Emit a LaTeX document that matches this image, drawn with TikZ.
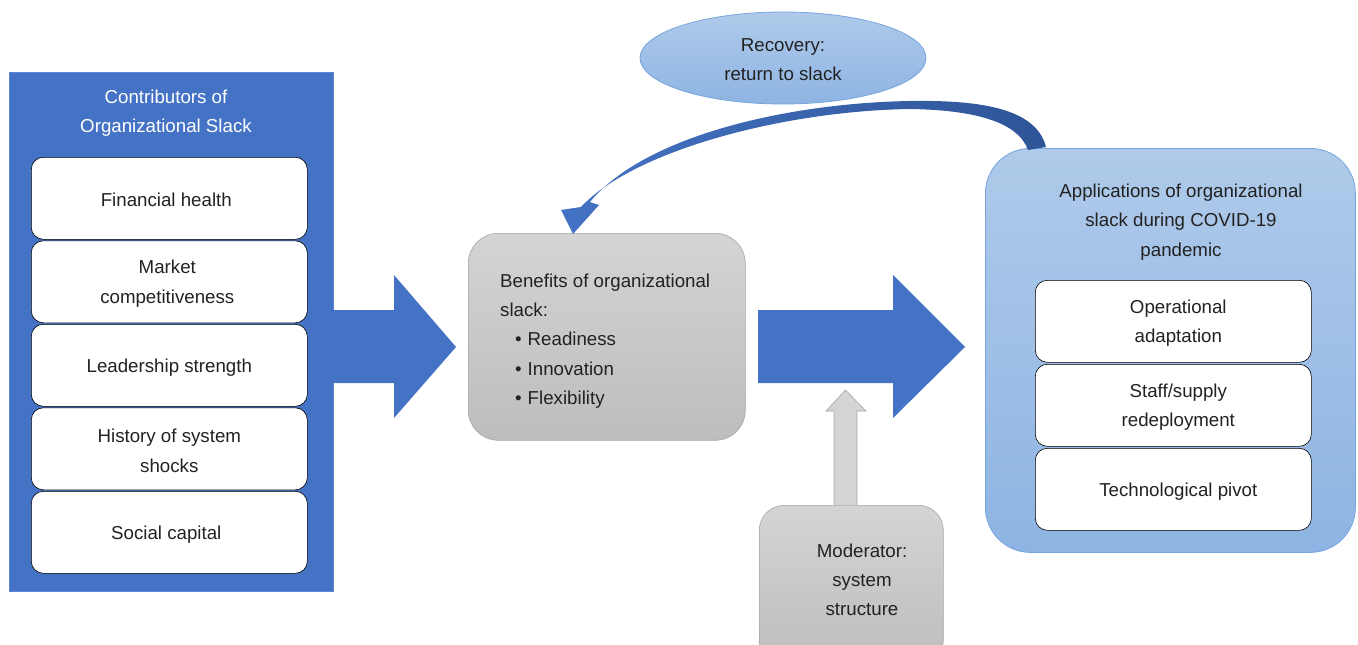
\documentclass[tikz,border=0pt]{standalone}
\usepackage{fontspec}
\setmainfont{Liberation Sans}
\usetikzlibrary{shapes.geometric}
\definecolor{bblue}{HTML}{4472C4}
\definecolor{dblue}{HTML}{2F5597}
\definecolor{bedge}{HTML}{5B87D0}
\definecolor{ltop}{HTML}{AFCAEA}
\definecolor{lbot}{HTML}{8EB4E3}
\definecolor{ledge}{HTML}{76A5DD}
\definecolor{gtop}{HTML}{D4D4D4}
\definecolor{gbot}{HTML}{BDBDBD}
\definecolor{gedge}{HTML}{A6A6A6}
\definecolor{txt}{HTML}{222222}
\begin{document}
\begin{tikzpicture}[x=1pt,y=-1pt,
  every node/.style={font=\fontsize{18.7}{29.3}\selectfont, text=txt, inner sep=0pt},
  itembox/.style={draw=black, line width=0.6pt, fill=white, rounded corners=12pt,
    minimum width=276pt, minimum height=82pt, anchor=north west},
  itemtext/.style={align=center, yshift=-2pt},
  graybox/.style={draw=gedge, line width=0.6pt, top color=gtop, bottom color=gbot, rounded corners=30pt, anchor=north west},
  lightbox/.style={draw=ledge, line width=0.8pt, top color=ltop, bottom color=lbot},
  blockarrow/.style={fill=bblue, draw=none}
]
\useasboundingbox (0,0) rectangle (1358,645);

% Left container
\node[fill=bblue, draw=bedge, line width=0.6pt, minimum width=324pt, minimum height=519pt, anchor=north west] (contrib) at (9,72) {};
\node[align=center, text=white] (ctitle) at (166,113) {Contributors of\\Organizational Slack};
\node[itembox] (c1) at (31,157) {};
\node[itembox] (c2) at (31,240.5) {};
\node[itembox] (c3) at (31,324) {};
\node[itembox] (c4) at (31,407.5) {};
\node[itembox] (c5) at (31,491) {};
\node[itemtext, xshift=-3pt] at (c1) {Financial health};
\node[itemtext, xshift=-2pt] at (c2) {Market\\competitiveness};
\node[itemtext] at (c3) {Leadership strength};
\node[itemtext] at (c4) {History of system\\shocks};
\node[itemtext, xshift=-3pt] at (c5) {Social capital};

% Arrow 1
\fill[blockarrow] (333,310) -- (394,310) -- (394,275) -- (456,347) -- (394,418) -- (394,383) -- (333,383) -- cycle;

% Benefits box
\node[graybox, minimum width=277pt, minimum height=207pt] (benefit) at (468,233) {};
\node[anchor=west, align=left] (btext) at (500,341) {Benefits of organizational\\slack:\\\hspace*{15pt}\textbullet\hspace{6pt}Readiness\\\hspace*{15pt}\textbullet\hspace{6pt}Innovation\\\hspace*{15pt}\textbullet\hspace{6pt}Flexibility};

% Arrow 2
\fill[blockarrow] (758,310) -- (893,310) -- (893,275) -- (965,347) -- (893,418) -- (893,383) -- (758,383) -- cycle;

% Moderator
\node[graybox, rounded corners=25pt, minimum width=184pt, minimum height=160pt] (moder) at (759,505) {};
\node[align=center] (mtext) at (862,580) {Moderator:\\system\\structure};
\draw[fill=gtop, draw=gedge, line width=0.6pt] (834,505) -- (834,411) -- (826,411) -- (845.5,390) -- (866,411) -- (857,411) -- (857,505);

% Applications box
\node[lightbox, rounded corners=45pt, minimum width=370pt, minimum height=404pt, anchor=north west] (apps) at (985,148) {};
\node[align=center] (atitle) at (1181,222) {Applications of organizational\\slack during COVID-19\\pandemic};
\node[itembox] (a1) at (1035,280) {};
\node[itembox] (a2) at (1035,364) {};
\node[itembox] (a3) at (1035,448) {};
\node[itemtext, xshift=5pt] at (a1) {Operational\\adaptation};
\node[itemtext, xshift=5pt] at (a2) {Staff/supply\\redeployment};
\node[itemtext, xshift=5pt] at (a3) {Technological pivot};

% Recovery ellipse
\node[ellipse, lightbox, minimum width=286pt, minimum height=92pt] (recov) at (783,58) {};
\node[align=center] (rtext) at (783,60) {Recovery:\\return to slack};

% Curved return arrow
\shade[left color=bblue, right color=dblue]
  (1046,147) .. controls (1036,108) and (980,100) .. (910,101)
  .. controls (790,103) and (645,135) .. (590,202)
  -- (599,205) -- (573,234) -- (561,210) -- (581,207)
  .. controls (632,152) and (780,111) .. (910,109)
  .. controls (975,110) and (1018,122) .. (1028,150) -- cycle;
\end{tikzpicture}
\end{document}
